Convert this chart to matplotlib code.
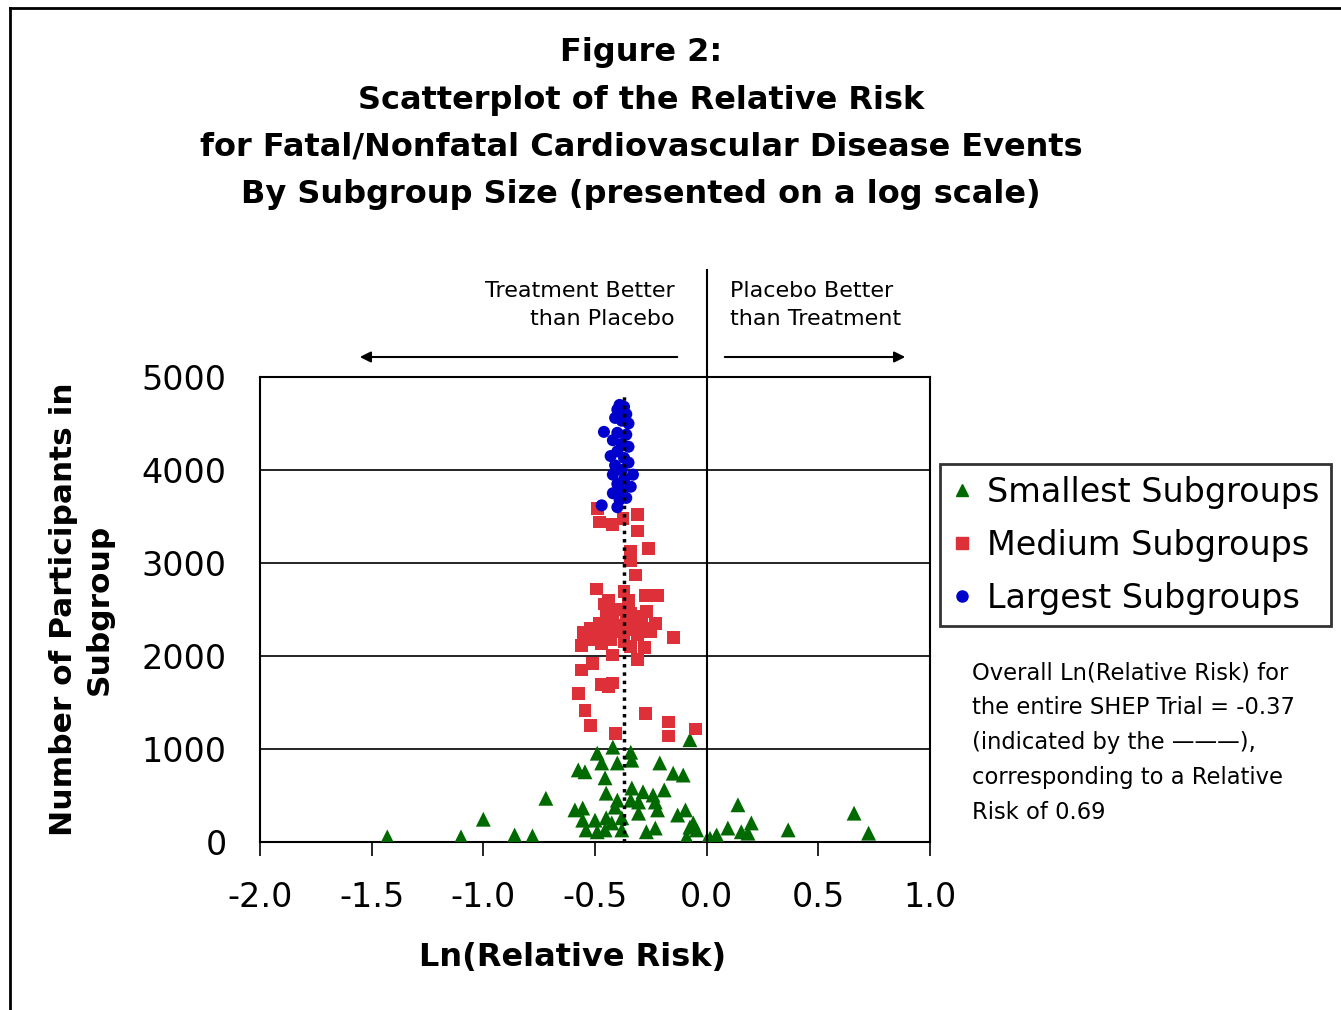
import numpy as np
import matplotlib
matplotlib.use("Agg")
import matplotlib.pyplot as plt
from matplotlib.lines import Line2D

plt.rcParams['font.family'] = ['DejaVu Sans']

# data: Ln(relative risk) vs. subgroup size
small_x = [-1.43, -1.10, -1.00, -0.86, -0.78, -0.72,
           -0.49, -0.42, -0.34, -0.335, -0.47, -0.40, -0.575, -0.545, -0.455,
           -0.21, -0.15, -0.105, -0.075, -0.45, -0.335, -0.285, -0.24, -0.19,
           -0.40, -0.34, -0.305, -0.23, -0.41, -0.59, -0.555, -0.22, -0.305,
           -0.13, -0.095, -0.555, -0.50, -0.45, -0.425, -0.38, -0.54, -0.49,
           -0.455, -0.38, -0.27, -0.23, -0.075, -0.045, -0.09, 0.0, 0.04,
           0.14, 0.095, 0.155, 0.20, 0.185, 0.045, 0.015, -0.06, 0.365, 0.66, 0.725]
small_y = [55, 55, 245, 75, 65, 470,
           955, 1020, 965, 880, 850, 850, 775, 755, 690,
           850, 740, 720, 1100, 525, 580, 540, 505, 560,
           450, 450, 430, 430, 375, 345, 365, 345, 310,
           290, 345, 235, 235, 260, 205, 260, 130, 110,
           130, 130, 110, 150, 160, 130, 55, 20, 55,
           400, 150, 110, 205, 95, 75, 40, 205, 130, 310, 95]

medium_x = [-0.49, -0.48, -0.42, -0.375, -0.31, -0.31, -0.26, -0.34, -0.34, -0.32,
            -0.495, -0.44, -0.37, -0.275, -0.22, -0.35, -0.46,
            -0.45, -0.40, -0.34, -0.30, -0.27, -0.36, -0.42, -0.48, -0.52, -0.55,
            -0.50, -0.45, -0.39, -0.33, -0.28, -0.25, -0.31, -0.37, -0.43, -0.47,
            -0.40, -0.35, -0.29, -0.23, -0.15, -0.56, -0.47, -0.28, -0.31, -0.51,
            -0.56, -0.42, -0.37, -0.34, -0.44, -0.53,
            -0.47, -0.42, -0.44, -0.575, -0.545, -0.275, -0.52, -0.17, -0.17,
            -0.05, -0.41]
medium_y = [3590, 3440, 3410, 3480, 3520, 3345, 3160, 3120, 3030, 2870,
            2720, 2600, 2690, 2650, 2650, 2600, 2560,
            2480, 2500, 2460, 2430, 2480, 2400, 2380, 2350, 2300, 2250,
            2220, 2280, 2330, 2350, 2300, 2260, 2230, 2200, 2180, 2150,
            2260, 2280, 2390, 2350, 2200, 2110, 2130, 2090, 1960, 1920,
            1850, 2010, 2150, 2100, 2240, 2180,
            1690, 1710, 1670, 1600, 1410, 1380, 1250, 1290, 1140,
            1215, 1170]

large_x = [-0.39, -0.37, -0.40, -0.36, -0.41, -0.38, -0.35, -0.46, -0.40, -0.36,
           -0.42, -0.38, -0.35, -0.40, -0.43, -0.37, -0.35, -0.41, -0.38, -0.42,
           -0.33, -0.37, -0.40, -0.34, -0.38, -0.42, -0.36, -0.39, -0.47, -0.40]
large_y = [4700, 4680, 4650, 4600, 4560, 4530, 4500, 4410, 4400, 4380,
           4320, 4280, 4250, 4200, 4150, 4130, 4080, 4050, 4000, 3950,
           3950, 3900, 3850, 3820, 3780, 3750, 3700, 3680, 3620, 3600]

overall_ln_rr = -0.37
x_ticks = [-2.0, -1.5, -1.0, -0.5, 0.0, 0.5, 1.0]
y_ticks = [0, 1000, 2000, 3000, 4000, 5000]

green = '#006a00'
red = '#de3038'
blue = '#0000cc'

fig = plt.figure(figsize=(13.41, 10.10), dpi=100)
W, H = 1341, 1010

def fx(px):
    return px / W

def fy(py):
    return 1 - py / H

# outer frame (top + left)
fig.add_artist(Line2D([fx(10), fx(10)], [fy(8), 0], color='black', lw=2, transform=fig.transFigure))
fig.add_artist(Line2D([fx(10), 1], [fy(8), fy(8)], color='black', lw=2, transform=fig.transFigure))

ax = fig.add_axes([fx(260), fy(842), fx(930) - fx(260), fy(377) - fy(842)])
ax.set_xlim(-2.0, 1.0)
ax.set_ylim(0, 5000)

for yv in y_ticks[1:-1]:
    ax.axhline(yv, color='black', lw=1.2, zorder=1)

ax.scatter(small_x, small_y, marker='^', s=115, color=green, edgecolors='none', zorder=3)
ax.scatter(medium_x, medium_y, marker='s', s=85, color=red, edgecolors='none', zorder=3)
ax.scatter(large_x, large_y, marker='o', s=75, color=blue, edgecolors='none', zorder=3)

ax.plot([overall_ln_rr, overall_ln_rr], [0, 4800], color='black', lw=2.5,
        linestyle=(0, (1, 1.4)), zorder=4)

# vertical line at 0, extends above plot
ax.plot([0, 0], [0, 5000 + (377 - 270) / 0.093], color='black', lw=1.5,
        clip_on=False, zorder=4)

ax.set_xticks(x_ticks)
ax.set_xticklabels(['%.1f' % v for v in x_ticks])
ax.set_yticks(y_ticks)
ax.tick_params(axis='x', direction='out', length=10, width=1.2, labelsize=24, pad=18)
ax.tick_params(axis='y', length=0, labelsize=24, pad=24)
for sp in ax.spines.values():
    sp.set_linewidth(1.5)

ax.set_xlabel('Ln(Relative Risk)', fontsize=23, fontweight='bold')
ax.xaxis.set_label_coords((573 - 260) / 670, -0.215)
ax.set_ylabel('Number of Participants in\nSubgroup', fontsize=22.5, fontweight='bold',
              labelpad=20, linespacing=1.3)

# title
title = ['Figure 2:', 'Scatterplot of the Relative Risk',
         'for Fatal/Nonfatal Cardiovascular Disease Events',
         'By Subgroup Size (presented on a log scale)']
for i, line in enumerate(title):
    fig.text(fx(641), fy(53 + i * 47), line, ha='center', va='center',
             fontsize=23, fontweight='bold')

# direction notes and arrows
fig.text(fx(675), fy(305), 'Treatment Better\nthan Placebo', ha='right', va='center',
         fontsize=16, linespacing=1.45)
fig.text(fx(730), fy(305), 'Placebo Better\nthan Treatment', ha='left', va='center',
         fontsize=16, linespacing=1.45)
fig.add_artist(matplotlib.patches.FancyArrowPatch(
    (fx(680), fy(357)), (fx(357), fy(357)), transform=fig.transFigure,
    arrowstyle='-|>', mutation_scale=16, lw=1.5, color='black'))
fig.add_artist(matplotlib.patches.FancyArrowPatch(
    (fx(722), fy(357)), (fx(908), fy(357)), transform=fig.transFigure,
    arrowstyle='-|>', mutation_scale=16, lw=1.5, color='black'))

# legend
handles = [
    Line2D([], [], marker='^', linestyle='none', color=green, markersize=9),
    Line2D([], [], marker='s', linestyle='none', color=red, markersize=8),
    Line2D([], [], marker='o', linestyle='none', color=blue, markersize=8),
]
labels = ['Smallest Subgroups', 'Medium Subgroups', 'Largest Subgroups']
leg = fig.legend(handles, labels, loc='upper left',
                 bbox_to_anchor=(fx(940), fy(464)), fontsize=24,
                 frameon=True, fancybox=False, edgecolor='black',
                 handlelength=0.6, handletextpad=0.45, borderpad=0.35,
                 labelspacing=0.6, borderaxespad=0)
leg.get_frame().set_linewidth(2)

note = ('Overall Ln(Relative Risk) for\n'
        'the entire SHEP Trial = -0.37\n'
        '(indicated by the \u2014\u2014\u2014),\n'
        'corresponding to a Relative\n'
        'Risk of 0.69')
fig.text(fx(972), fy(661), note, ha='left', va='top', fontsize=16.3, linespacing=1.66)

fig.savefig('out.png', dpi=100)
